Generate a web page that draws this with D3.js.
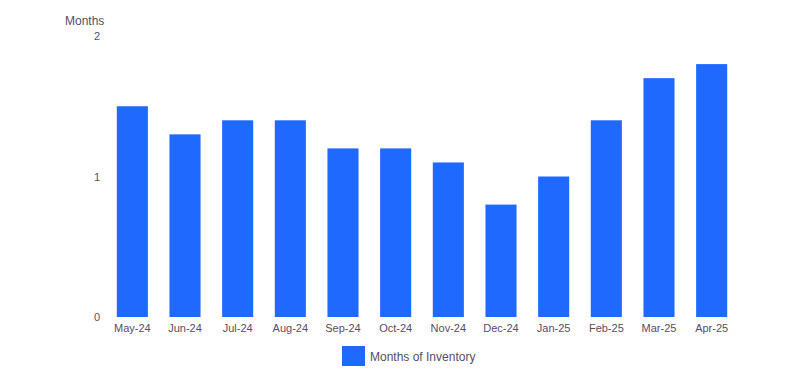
<!DOCTYPE html>
<html><head><meta charset="utf-8">
<script src="https://cdn.jsdelivr.net/npm/d3@7"></script>
<style>body{margin:0;background:#fff}svg{display:block;font-family:"Liberation Sans",Arial,sans-serif}</style>
</head><body>
<svg id="c" width="812" height="382"></svg>
<script>
const categories = ["May-24","Jun-24","Jul-24","Aug-24","Sep-24","Oct-24","Nov-24","Dec-24","Jan-25","Feb-25","Mar-25","Apr-25"];
const inventory = [1.5,1.3,1.4,1.4,1.2,1.2,1.1,0.8,1.0,1.4,1.7,1.8];
const yTicks = [0,1,2];
const seriesName = "Months of Inventory";
const yTitle = "Months";

const svg = d3.select("#c");
const x = d3.scaleBand().domain(categories).range([106, 738]).paddingInner(0.41).paddingOuter(0.205);
const y = d3.scaleLinear().domain([0,2]).range([317, 36]);
const color = "#1f69ff";
const textColor = "#574d66";

svg.append("g").selectAll("rect").data(inventory).join("rect")
  .attr("x",(d,i)=>x(categories[i])).attr("width",x.bandwidth())
  .attr("y",d=>y(d)).attr("height",d=>y(0)-y(d)).attr("fill",color);

const ya = svg.append("g").attr("transform","translate(100,0)")
  .call(d3.axisLeft(y).tickValues(yTicks).tickFormat(d3.format("d")).tickSize(0).tickPadding(0));
ya.select(".domain").remove();
ya.selectAll("text").attr("fill",textColor).style("font-size","11px").style("font-family","Liberation Sans, Arial, sans-serif");

const xa = svg.append("g").attr("transform","translate(0,321)")
  .call(d3.axisBottom(x).tickSize(0).tickPadding(3));
xa.select(".domain").remove();
xa.selectAll("text").attr("fill",textColor).style("font-size","11px").style("font-family","Liberation Sans, Arial, sans-serif");

svg.append("text").attr("x",65).attr("y",25).attr("fill",textColor)
  .style("font-size","12px").text(yTitle);

const lg = svg.append("g").attr("transform","translate(342,346)");
lg.append("rect").attr("width",23).attr("height",20).attr("fill",color);
lg.append("text").attr("x",28).attr("y",14.5).attr("fill",textColor).style("font-size","12px").text(seriesName);
</script>
</body></html>
